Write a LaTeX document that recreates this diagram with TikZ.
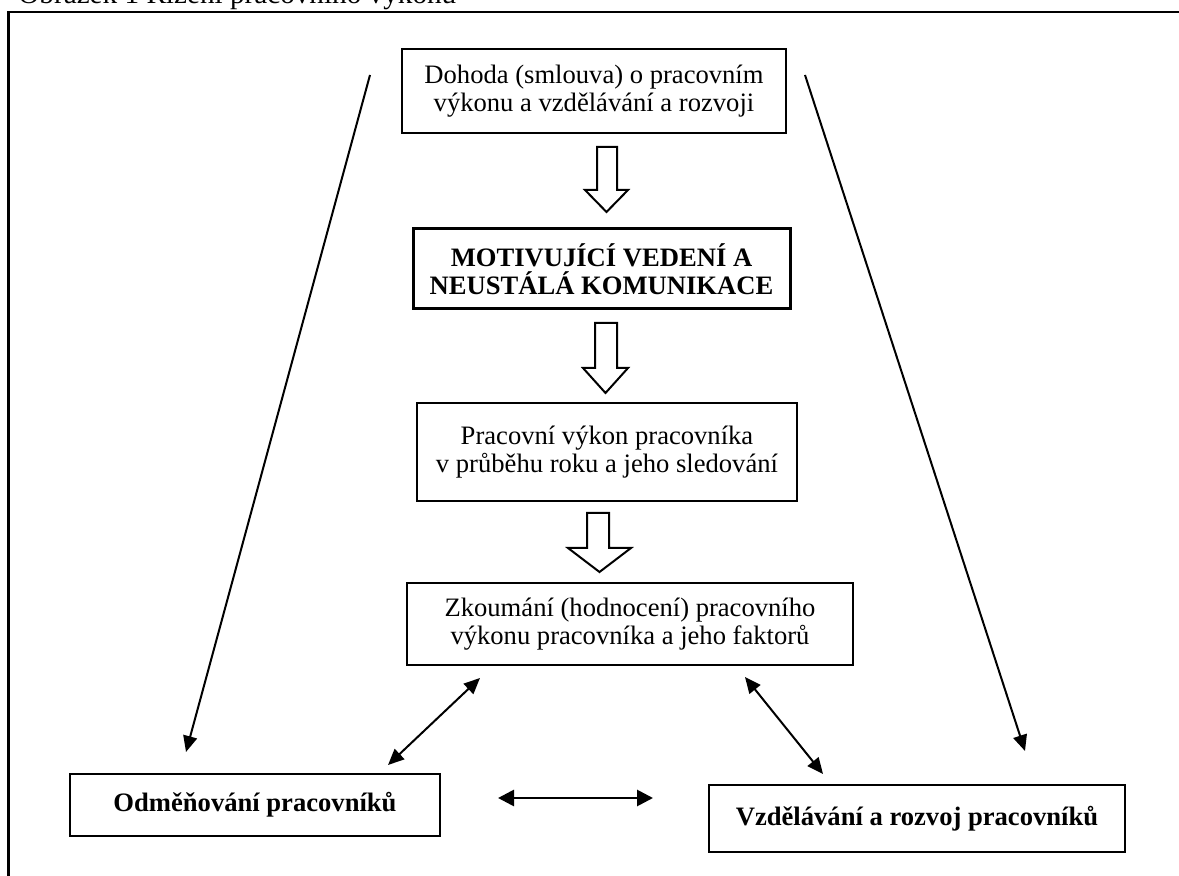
\documentclass[tikz,border=0pt]{standalone}
\usepackage{fontspec}
\setmainfont{Liberation Serif}
\usetikzlibrary{arrows.meta}

\begin{document}
\begin{tikzpicture}[
        x=0.5pt, y=-0.5pt,
        font=\fontsize{13.3}{14}\selectfont,
        block/.style={rectangle, draw, line width=1pt, inner sep=0pt, align=center},
        hollow/.style={draw, line width=1pt, fill=white, line join=miter},
        msg/.style={-{Triangle[length=8pt, width=7pt]}, line width=1pt},
        both/.style={{Triangle[length=8pt, width=7pt]}-{Triangle[length=8pt, width=7pt]}, line width=1pt}
    ]
        \useasboundingbox (0,0) rectangle (1179,876);
        \clip (0,0) rectangle (1179,876);

        % caption cut by the page edge, and the frame
        \node[anchor=base west, inner sep=0pt, font=\fontsize{14.6}{16}\selectfont] (fig_title) at (18,3.5) {Obrázek 1 Řízení pracovního výkonu};
        \draw[line width=1.3pt] (8.5,900) -- (8.5,12) -- (1200,12);

        \node[block, minimum width=192pt, minimum height=42pt] (dohoda) at (594,91) {Dohoda (smlouva) o pracovním\\výkonu a vzdělávání a rozvoji};
        \node[block, line width=1.5pt, minimum width=188.5pt, minimum height=40pt, font=\fontsize{13.3}{14}\selectfont\bfseries] (motivace) at (601.5,269) {MOTIVUJÍCÍ VEDENÍ A\\NEUSTÁLÁ KOMUNIKACE};
        \node[block, minimum width=190pt, minimum height=49pt] (vykon) at (607,452) {Pracovní výkon pracovníka\\v průběhu roku a jeho sledování};
        \node[block, minimum width=223pt, minimum height=41pt] (hodnoceni) at (630,624) {Zkoumání (hodnocení) pracovního\\výkonu pracovníka a jeho faktorů};
        \node[block, minimum width=185pt, minimum height=31pt, font=\fontsize{13.3}{14}\selectfont\bfseries] (odmeny) at (255,805) {Odměňování pracovníků};
        \node[block, minimum width=208pt, minimum height=33.5pt, font=\fontsize{13.3}{14}\selectfont\bfseries] (rozvoj) at (917,818.5) {Vzdělávání a rozvoj pracovníků};

        % hollow block arrows down the middle
        \draw[hollow] (597,147) -- (617,147) -- (617,190) -- (628,190) -- (606.5,212) -- (585,190) -- (597,190) -- cycle;
        \draw[hollow] (595,323) -- (617,323) -- (617,368) -- (628,368) -- (605.5,393) -- (583,368) -- (595,368) -- cycle;
        \draw[hollow] (587,513) -- (609,513) -- (609,548) -- (631,548) -- (599.5,572) -- (568,548) -- (587,548) -- cycle;

        \coordinate (left_top) at (370,75);
        \coordinate (left_end) at (186,752);
        \coordinate (right_top) at (805,75);
        \coordinate (right_end) at (1025,751);
        \draw[msg] (left_top) -- (left_end);
        \draw[msg] (right_top) -- (right_end);

        \coordinate (hl_a) at (480,678);
        \coordinate (hl_b) at (388,765);
        \coordinate (hr_a) at (745,677);
        \coordinate (hr_b) at (823,774);
        \coordinate (mid_a) at (498,798);
        \coordinate (mid_b) at (653,798);
        \draw[both] (hl_a) -- (hl_b);
        \draw[both] (hr_a) -- (hr_b);
        \draw[both, line width=1.4pt, {Triangle[length=8pt, width=8pt]}-{Triangle[length=8pt, width=8pt]}] (mid_a) -- (mid_b);
    \end{tikzpicture}
\end{document}
